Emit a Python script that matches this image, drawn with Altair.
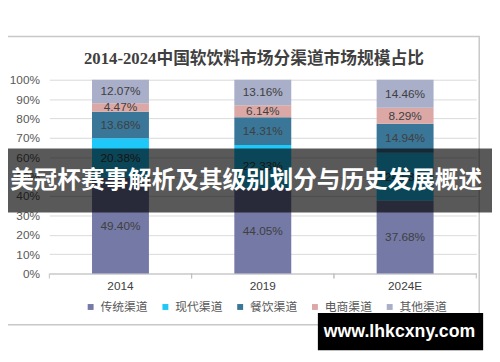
import altair as alt
import pandas as pd

# ---- data ----
years = ["2014", "2019", "2024E"]
channels = ["传统渠道", "现代渠道", "餐饮渠道", "电商渠道", "其他渠道"]
traditional = [49.40, 44.05, 37.68]
modern = [20.38, 22.33, 24.63]
catering = [13.68, 14.31, 14.94]
ecommerce = [4.47, 6.14, 8.29]
other = [12.07, 13.16, 14.46]
colors = ["#7479a6", "#1ec8f8", "#3a7698", "#dba8a6", "#a9aec9"]
y_ticks = [0, 10, 20, 30, 40, 50, 60, 70, 80, 90, 100]

chart_title = "2014-2024中国软饮料市场分渠道市场规模占比"
banner_text = "美冠杯赛事解析及其级别划分与历史发展概述"
watermark_text = "www.lhkcxny.com"

series = [traditional, modern, catering, ecommerce, other]
rows = []
for ci, (ch, vals) in enumerate(zip(channels, series)):
    for yr, v in zip(years, vals):
        rows.append({"year": yr, "channel": ch, "value": v, "order": ci,
                     "label": f"{v:.2f}%"})
df = pd.DataFrame(rows)
df_years = pd.DataFrame({"year": years})

W, H = 434, 197
xscale = alt.Scale(domain=years, paddingInner=0.6, paddingOuter=0.3)
yscale = alt.Scale(domain=[0, 100], nice=False)
gap = 0.75 * (0.4 * W / 3)  # half the gap between bars, in pixels

y_axis = alt.Axis(values=y_ticks, tickCount=20, labelExpr="datum.value + '%'",
                  labelOverlap=False, labelFlush=False, grid=True,
                  gridColor="#d9d9d9", domain=False, ticks=False,
                  labelFontSize=12, labelColor="#595959",
                  labelFont="Liberation Sans", labelPadding=10)

base = alt.Chart(df).transform_stack(
    stack="value", as_=["y0", "y1"], groupby=["year"],
    sort=[alt.SortField("order", order="ascending")]
).transform_calculate(mid="(datum.y0 + datum.y1) / 2")

bars = base.mark_bar().encode(
    x=alt.X("year:N", scale=xscale, title=None, sort=years),
    y=alt.Y("y0:Q", scale=yscale, title=None, axis=y_axis),
    y2="y1:Q",
    color=alt.Color("channel:N", scale=alt.Scale(domain=channels, range=colors),
                    sort=channels, title=None,
                    legend=alt.Legend(orient="none", legendX=36, legendY=225,
                                      direction="horizontal", symbolType="square",
                                      symbolSize=36, symbolStrokeWidth=0,
                                      labelFontSize=12, labelColor="#595959",
                                      labelFont="Noto Sans CJK SC",
                                      columnPadding=11, labelOffset=4, padding=0)),
)

texts = base.mark_text(fontSize=12, color="#404040", font="Liberation Sans").encode(
    x=alt.X("year:N", scale=xscale, title=None, sort=years),
    y=alt.Y("mid:Q", scale=yscale, title=None, axis=y_axis),
    text="label:N",
)

tick_left = alt.Chart(df_years).mark_rule(color="#bfbfbf", xOffset=-gap).encode(
    x=alt.X("year:N", scale=xscale, title=None, sort=years, bandPosition=0),
    y=alt.value(H), y2=alt.value(H + 5),
)
tick_right = alt.Chart(df_years).mark_rule(color="#bfbfbf", xOffset=gap).encode(
    x=alt.X("year:N", scale=xscale, title=None, sort=years, bandPosition=1),
    y=alt.value(H), y2=alt.value(H + 5),
)

frame = alt.Chart(pd.DataFrame({"t": [chart_title]})).mark_rect(
    filled=False, stroke="#c8c8c8", strokeWidth=1.5
).encode(x=alt.value(-47), x2=alt.value(437), y=alt.value(-44), y2=alt.value(249))

title_text = alt.Chart(pd.DataFrame({"t": [chart_title]})).mark_text(
    font="Liberation Serif, Noto Sans CJK SC", fontSize=17, fontWeight="bold",
    color="#404040"
).encode(x=alt.value(208), y=alt.value(-21), text="t:N")

banner = alt.Chart(pd.DataFrame({"t": [banner_text]})).mark_rect(
    fill="black", opacity=0.65
).encode(x=alt.value(-50), x2=alt.value(450), y=alt.value(70), y2=alt.value(135))

banner_label = alt.Chart(pd.DataFrame({"t": [banner_text]})).mark_text(
    font="Noto Sans CJK SC", fontSize=24, fontWeight="bold", color="white"
).encode(x=alt.value(200), y=alt.value(103), text="t:N")

wm_rect = alt.Chart(pd.DataFrame({"t": [watermark_text]})).mark_rect(
    fill="black"
).encode(x=alt.value(273), x2=alt.value(441), y=alt.value(237), y2=alt.value(275))

wm_label = alt.Chart(pd.DataFrame({"t": [watermark_text]})).mark_text(
    font="Liberation Sans", fontSize=18, fontWeight="bold", color="white"
).encode(x=alt.value(356), y=alt.value(257), text="t:N")

chart = alt.layer(
    frame, title_text, bars, texts, tick_left, tick_right,
    banner, banner_label, wm_rect, wm_label
).properties(
    width=W, height=H,
    autosize=alt.AutoSizeParams(type="none"),
    padding={"left": 42, "top": 70, "right": 16, "bottom": 87},
).configure_view(stroke=None).configure_axisX(
    domainColor="#bfbfbf", ticks=False, labelAngle=0, labelFontSize=12,
    labelColor="#404040", labelFont="Liberation Sans", labelPadding=7, grid=False,
)

chart.save("out.html", embed_options={"renderer": "svg", "actions": False})
